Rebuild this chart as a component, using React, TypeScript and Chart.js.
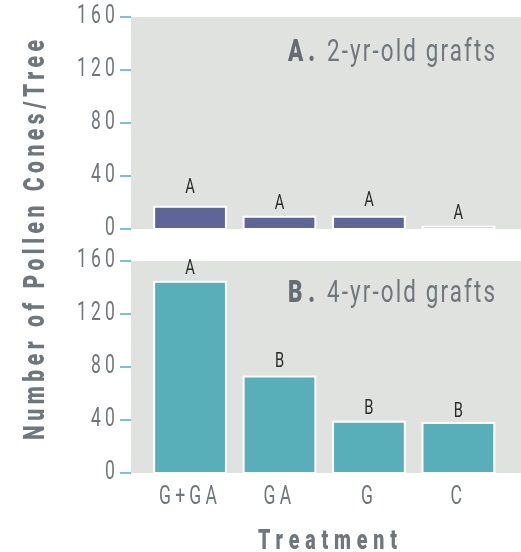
import React, { useEffect, useRef } from 'react';
import { Chart, registerables } from 'chart.js';

Chart.register(...registerables);

// ---- Data ----
const categories = ['G+GA', 'GA', 'G', 'C'];
const yTicks = [0, 40, 80, 120, 160];
const valuesA = [16, 8.5, 8.5, 1];
const valuesB = [143.5, 72, 38, 37];
const lettersA = ['A', 'A', 'A', 'A'];
const lettersB = ['A', 'B', 'B', 'B'];
const letterPosA = [27, 15, 17.5, 7.5];
const letterPosB = [150, 80, 44.5, 42.5];
const titleA = ['A.', '2-yr-old grafts'];
const titleB = ['B.', '4-yr-old grafts'];
const yTitle = 'Number of Pollen Cones/Tree';
const xTitle = 'Treatment';

// ---- Styles ----
const FONT = "Roboto, 'Liberation Sans', sans-serif";
const SX = 0.7; // horizontal condensation of glyphs
const TICK_SPACING = '6px';
const GRAY = '#6f777c';
const DARK_GRAY = '#656d72';
const TEAL_TICK = '#7cc4cb';
const PANEL_BG = '#dfe2de';
const COLOR_A = '#5e6599';
const COLOR_B = '#59afb9';

function condense(ctx: any) {
  if (ctx.__condensed) return;
  const orig = ctx.fillText.bind(ctx);
  ctx.fillText = (t: string, x: number, y: number) => {
    ctx.save();
    ctx.translate(x, y);
    ctx.scale(SX, 1);
    orig(t, 0, 0);
    ctx.restore();
  };
  ctx.__condensed = true;
}

// draw text left-aligned at x, spread so its visible width is `target`
function drawSpaced(ctx: any, text: string, x: number, y: number, target: number) {
  ctx.letterSpacing = '0px';
  const w = ctx.measureText(text).width;
  const n = Math.max(1, text.length - 1);
  const ls = (target / SX - w) / n;
  ctx.letterSpacing = `${ls}px`;
  ctx.textAlign = 'left';
  ctx.fillText(text, x, y);
}

const spacingPlugin = {
  id: 'spacing',
  beforeUpdate(chart: any) {
    condense(chart.ctx);
    chart.ctx.letterSpacing = TICK_SPACING;
  },
  beforeDraw(chart: any) {
    condense(chart.ctx);
    chart.ctx.letterSpacing = TICK_SPACING;
  },
};

const bgPlugin = {
  id: 'panelBg',
  beforeDatasetsDraw(chart: any) {
    const { ctx, chartArea } = chart;
    ctx.save();
    ctx.fillStyle = PANEL_BG;
    ctx.fillRect(chartArea.left, chartArea.top, chartArea.right - chartArea.left, chartArea.bottom - chartArea.top);
    // white outline around each bar (outside the fill)
    ctx.fillStyle = '#ffffff';
    chart.getDatasetMeta(0).data.forEach((bar: any) => {
      const top = Math.min(bar.y, bar.base);
      const h = Math.abs(bar.base - bar.y);
      ctx.fillRect(bar.x - bar.width / 2 - 2, top - 2, bar.width + 4, h + 3);
    });
    ctx.restore();
  },
};

function makeLabelsPlugin(letters: string[], pos: number[], title: string[], titleDy: number) {
  return {
    id: 'annot',
    afterDatasetsDraw(chart: any) {
      const { ctx, chartArea, scales } = chart;
      const meta = chart.getDatasetMeta(0);
      ctx.save();
      ctx.letterSpacing = '0px';
      ctx.fillStyle = '#2a2a2a';
      ctx.font = `21px ${FONT}`;
      ctx.textAlign = 'center';
      ctx.textBaseline = 'alphabetic';
      meta.data.forEach((bar: any, i: number) => {
        ctx.fillText(letters[i], bar.x, scales.y.getPixelForValue(pos[i]));
      });
      // panel title
      const baseY = chartArea.top + titleDy;
      const restRight = chartArea.right - 26;
      const restLeft = restRight - 168;
      ctx.font = `900 32px ${FONT}`;
      ctx.fillStyle = DARK_GRAY;
      drawSpaced(ctx, title[0], restLeft - 39, baseY, 27);
      ctx.font = `32px ${FONT}`;
      ctx.fillStyle = GRAY;
      drawSpaced(ctx, title[1], restLeft, baseY, 168);
      ctx.restore();
    },
  };
}

const axisTitlesPlugin = {
  id: 'axisTitles',
  afterDraw(chart: any) {
    const { ctx, chartArea } = chart;
    ctx.save();
    ctx.fillStyle = GRAY;
    ctx.textBaseline = 'alphabetic';
    // y title (rotated), spanning both panels
    ctx.save();
    ctx.translate(44, 440);
    ctx.rotate(-Math.PI / 2);
    ctx.font = `900 30px ${FONT}`;
    drawSpaced(ctx, yTitle, 0, 0, 400);
    ctx.restore();
    // x title
    ctx.font = `900 28px ${FONT}`;
    const cx = (chartArea.left + chartArea.right) / 2;
    drawSpaced(ctx, xTitle, cx - 68, chart.height - 3, 139);
    ctx.restore();
  },
};

function makeConfig(values: number[], color: string, isBottom: boolean, extraPlugins: any[]): any {
  return {
    type: 'bar',
    data: {
      datasets: [
        {
          data: categories.map((c, i) => ({ x: i, y: values[i] })),
          backgroundColor: color,
          borderWidth: 0,
          categoryPercentage: 1,
          barPercentage: 0.78,
        },
      ],
    },
    options: {
      responsive: false,
      maintainAspectRatio: false,
      animation: false,
      events: [],
      layout: {
        padding: isBottom
          ? { top: 261, bottom: 0, left: 0, right: 0 }
          : { top: 17, bottom: 16, left: 0, right: 0 },
      },
      plugins: {
        legend: { display: false },
        tooltip: { enabled: false },
        title: { display: false },
      },
      scales: {
        x: {
          type: 'linear',
          display: isBottom,
          offset: false,
          min: -0.66,
          max: 3.7,
          afterBuildTicks: (s: any) => {
            s.ticks = categories.map((_, i) => ({ value: i }));
          },
          afterFit: (s: any) => {
            if (isBottom) s.height = 79;
          },
          grid: { display: false, drawTicks: false, offset: false },
          border: { display: false },
          ticks: {
            autoSkip: false,
            maxRotation: 0,
            padding: 10,
            color: GRAY,
            font: { family: FONT, size: 25 },
            callback: (v: number) => categories[v] ?? '',
          },
          title: { display: false },
        },
        y: {
          min: 0,
          max: 160,
          afterBuildTicks: (s: any) => {
            s.ticks = yTicks.map((v) => ({ value: v }));
          },
          afterFit: (s: any) => {
            s.width = 131;
          },
          grid: {
            drawOnChartArea: false,
            drawTicks: true,
            tickLength: 11,
            color: TEAL_TICK,
            lineWidth: 2,
          },
          border: { display: false },
          ticks: {
            padding: 1,
            color: GRAY,
            font: { family: FONT, size: 25 },
          },
        },
      },
    },
    plugins: [spacingPlugin, bgPlugin, ...extraPlugins],
  };
}

export default function App() {
  const topRef = useRef<HTMLCanvasElement | null>(null);
  const botRef = useRef<HTMLCanvasElement | null>(null);

  useEffect(() => {
    const top = new Chart(
      topRef.current as HTMLCanvasElement,
      makeConfig(valuesA, COLOR_A, false, [makeLabelsPlugin(lettersA, letterPosA, titleA, 44)])
    );
    const bot = new Chart(
      botRef.current as HTMLCanvasElement,
      makeConfig(valuesB, COLOR_B, true, [makeLabelsPlugin(lettersB, letterPosB, titleB, 41), axisTitlesPlugin])
    );
    return () => {
      top.destroy();
      bot.destroy();
    };
  }, []);

  return (
    <div style={{ position: 'fixed', left: 0, top: 0, width: 521, height: 552, background: '#ffffff' }}>
      <canvas ref={botRef} width={521} height={552} style={{ position: 'absolute', left: 0, top: 0, display: 'block' }} />
      <canvas ref={topRef} width={521} height={245} style={{ position: 'absolute', left: 0, top: 0, display: 'block' }} />
    </div>
  );
}
